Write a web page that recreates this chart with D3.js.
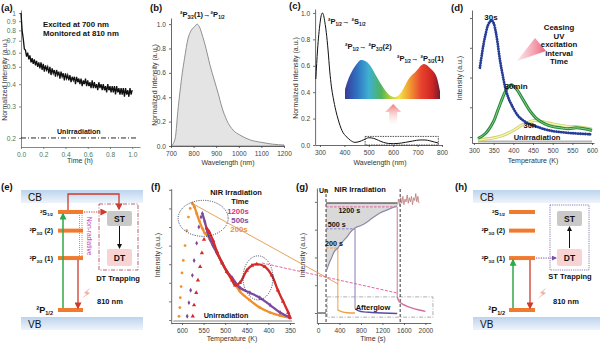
<!DOCTYPE html>
<html>
<head>
<meta charset="utf-8">
<script src="https://cdn.jsdelivr.net/npm/d3@7"></script>
<style>
  body { margin: 0; background: #fff; }
  svg { display: block; font-family: "Liberation Sans", Arial, sans-serif; }
</style>
</head>
<body>
<svg id="fig" width="600" height="344"></svg>
<script>
// ---------- data ----------
// (a) afterglow decay, sampled every 0.01 h
const aStep = 0.01;
const aIntensity = [1.00,0.80,0.72,0.63,0.62,0.57,0.60,0.55,0.58,0.53,0.56,0.52,0.55,0.51,0.54,0.50,0.53,0.49,0.53,0.48,
  0.52,0.47,0.51,0.48,0.50,0.46,0.50,0.45,0.49,0.46,0.48,0.44,0.48,0.45,0.47,0.43,0.47,0.44,0.46,0.42,
  0.46,0.43,0.45,0.42,0.45,0.41,0.44,0.42,0.44,0.40,0.44,0.41,0.43,0.40,0.43,0.39,0.42,0.40,0.43,0.39,
  0.42,0.39,0.41,0.38,0.42,0.38,0.41,0.38,0.40,0.37,0.41,0.38,0.40,0.37,0.40,0.37,0.39,0.36,0.40,0.37,
  0.39,0.36,0.39,0.36,0.39,0.35,0.39,0.36,0.38,0.35,0.38,0.35,0.38,0.34,0.38,0.35,0.37,0.34,0.38,0.35,0.37];
const aTimeTicks = [0, 0.2, 0.4, 0.6, 0.8, 1.0];
const aIntTicks = [0.2, 0.3, 0.4, 0.5, 0.6, 0.7, 0.8, 0.9, 1];

// (b) emission spectrum
const bWave = [700,710,720,730,740,750,760,775,790,805,815,825,840,855,873,890,909,925,947,975,1005,1050,1100,1150,1200];
const bInt  = [0,0.02,0.08,0.28,0.45,0.6,0.72,0.88,0.95,0.98,1.0,0.98,0.9,0.8,0.66,0.55,0.43,0.32,0.21,0.13,0.09,0.05,0.03,0.015,0.008];

// (c) absorption spectrum
const cWave = [283,290,300,305,310,315,320,326,333,340,347,354,365,375,390,410,425,443,460,480,500,520,540,560,580,600,620,650,680,710,730,750,770,785];
const cAbs  = [0.5,0.72,0.92,0.98,1.0,0.98,0.93,0.85,0.72,0.56,0.44,0.36,0.26,0.19,0.11,0.06,0.035,0.02,0.025,0.04,0.055,0.05,0.035,0.02,0.012,0.01,0.012,0.02,0.03,0.038,0.038,0.032,0.022,0.015];
const specWave = [400,410,420,430,440,450,460,470,480,490,500,510,520,530,540,550,560,570,580,590,600,610,620,630,640,650,660,670,680,690,700];
const specRel  = [0.25,0.5,0.68,0.82,0.93,1.0,0.99,0.94,0.85,0.72,0.57,0.43,0.3,0.19,0.1,0.06,0.05,0.1,0.2,0.35,0.5,0.6,0.67,0.76,0.86,0.9,0.86,0.78,0.7,0.55,0.2];

// (d) TL after ceasing UV
const dTemp30s = [315,320,325,330,335,340,345,350,355,360,365,370,375,380,385,390,395,400,410,420,440,460,480,500,550,600];
const d30s     = [2.33,2.77,3.17,3.48,3.74,3.87,3.92,3.83,3.56,3.17,2.68,2.29,1.94,1.63,1.41,1.23,1.1,0.97,0.75,0.61,0.44,0.35,0.26,0.2,0.13,0.09];
const dTemp    = [310,330,350,360,370,380,390,395,400,410,420,430,440,450,460,480,500,520,540,560,580,600];
const d30min   = [-0.05,0.13,0.53,0.88,1.23,1.54,1.72,1.76,1.72,1.58,1.36,1.14,0.92,0.75,0.61,0.44,0.35,0.31,0.28,0.31,0.28,0.22];
const dTemp30h = [310,340,370,400,420,440,450,460,480,500,520,540,560,580,600];
const d30h     = [-0.09,-0.05,0.04,0.22,0.39,0.5,0.55,0.55,0.5,0.44,0.39,0.35,0.35,0.31,0.26];
const dUnirr   = -0.15;

// (f) TL after NIR irradiation
const fTemp200  = [607,605,604,602,600,597,593,589,585,581,576,571,566,560,553,547,541,535,528,519,507,496,484,466,443,420,396,373,350];
const fInt200   = [0.03,0.1,0.18,0.27,0.38,0.48,0.6,0.72,0.83,0.9,0.94,0.91,0.86,0.8,0.74,0.7,0.68,0.65,0.6,0.54,0.46,0.39,0.33,0.23,0.16,0.1,0.06,0.035,0.02];
const fTemp500  = [588,584,580,576,572,566,561,556,553,547,541,535,528,519,507,496,484,466,443,420,396,373,350];
const fInt500   = [0.03,0.14,0.24,0.36,0.48,0.62,0.75,0.83,0.86,0.79,0.71,0.65,0.6,0.54,0.46,0.39,0.34,0.26,0.22,0.18,0.12,0.06,0.02];
const fTemp1200 = [575,572,567,563,558,554,549,543,537,528,519,507,496,484,477,466,450,438,427,408,392,378,366,354,350];
const fInt1200  = [0.03,0.12,0.22,0.32,0.43,0.54,0.65,0.74,0.71,0.64,0.55,0.46,0.39,0.32,0.28,0.3,0.4,0.44,0.45,0.43,0.36,0.24,0.15,0.06,0.02];
const fPeaks = [576, 553, 543];

// (g) intensity vs time
const gGrowT = [150,200,260,300,370,450,540,600,690,800,915,1000,1155,1300,1475];
const gGrowU = [1.48,1.75,2.02,2.2,2.34,2.55,2.74,2.9,3.06,3.15,3.28,3.4,3.6,3.72,3.86];
const gNoiseT = [1480,1500,1520,1540,1560,1580,1600,1620,1640,1660,1680,1700,1720,1740,1760,1780,1800,1820,1840,1860,1880];
const gNoiseU = [3.9,4.1,3.85,4.15,3.95,4.2,3.9,4.1,4.0,4.25,3.95,4.15,4.0,4.2,3.9,4.15,4.05,4.3,4.0,4.2,3.95];
const gTop = 3.96;
const gStops = [370, 690, 1475];        // end of irradiation for 200 s, 500 s, 1200 s
const gLevels = [2.34, 3.03, 3.82];
const gStopLabels = ["200 s", "500 s", "1200 s"];
const gAfterT200 = [370,450,550,690];
const gAfter200  = [0.1,0.04,0.01,0.0];
const gAfterT500 = [690,760,850,1000,1200,1475];
const gAfter500  = [0.15,0.08,0.04,0.02,0.0,-0.02];
const gAfterT1200 = [1475,1500,1550,1650,1800,1950,2000];
const gAfter1200  = [0.58,0.45,0.35,0.25,0.15,0.08,0.06];

// (e)/(h) energy levels
const levelEnergy = [1, 0.81, 0.53, 0];
const levelText = [["²S", ["1/2"]], ["²P", ["3/2"], " (2)"], ["²P", ["3/2"], " (1)"], ["²P", ["1/2"]]];

// ---------- helpers ----------
const svg = d3.select("#fig");
const defs = svg.append("defs");
const FF = "Liberation Sans, Arial, sans-serif";
const fmtInt = d3.format("d");

function arrowMarker(id, color, size) {
  defs.append("marker").attr("id", id)
    .attr("viewBox", "0 0 10 10").attr("refX", 8).attr("refY", 5)
    .attr("markerUnits", "userSpaceOnUse")
    .attr("markerWidth", size).attr("markerHeight", size)
    .attr("orient", "auto")
    .append("path").attr("d", "M0,0L10,5L0,10z").attr("fill", color);
}
arrowMarker("arGreen", "#2ea84a", 7);
arrowMarker("arRed", "#d0392b", 7);
arrowMarker("arBlack", "#111", 5);
arrowMarker("arPurple", "#7a4fa5", 5);

function linGrad(id, stops, vertical) {
  const g = defs.append("linearGradient").attr("id", id)
    .attr("x1", 0).attr("y1", 0).attr("x2", vertical ? 0 : 1).attr("y2", vertical ? 1 : 0);
  stops.forEach(s => g.append("stop").attr("offset", s[0]).attr("stop-color", s[1]).attr("stop-opacity", s[2] == null ? 1 : s[2]));
}
linGrad("band", [[0, "#bcd4ee"], [1, "#eef4fb"]], true);
linGrad("rainbow", [[0, "#3b3b98"], [0.12, "#2f6fc0"], [0.25, "#3fb0d2"], [0.38, "#4fb35c"], [0.5, "#c8d832"],
  [0.57, "#f4e34a"], [0.67, "#f2a233"], [0.8, "#e8442f"], [0.92, "#cf2424"], [1, "#6e1f32"]]);
linGrad("pinkUp", [[0, "#f07c7c"], [1, "#ffffff", 0.2]], true);
linGrad("pinkCone", [[0, "#f3a6b4", 0.3], [1, "#ec5f78"]]);
linGrad("bolt", [[0, "#f7c4b8"], [1, "#ee8f7c"]], true);

function label(g, x, y, txt, o = {}) {
  return g.append("text").attr("x", x).attr("y", y)
    .attr("font-size", o.size || 7).attr("font-weight", o.bold ? "bold" : null)
    .attr("text-anchor", o.anchor || "start").attr("fill", o.fill || "#111").text(txt);
}

// parts: strings are normal, one-element arrays are subscripts
function rich(g, x, y, parts, size, anchor) {
  const t = g.append("text").attr("x", x).attr("y", y).attr("font-size", size)
    .attr("font-weight", "bold").attr("text-anchor", anchor || "start").attr("fill", "#111");
  let shift = 0;
  parts.forEach(p => {
    const sub = Array.isArray(p);
    const want = sub ? size * 0.28 : 0;
    t.append("tspan").attr("dy", want - shift).attr("font-size", sub ? size * 0.62 : size).text(sub ? p[0] : p);
    shift = want;
  });
  return t;
}

function yTitle(g, x, cy, txt) {
  g.append("text").attr("transform", `translate(${x},${cy}) rotate(-90)`)
    .attr("text-anchor", "middle").attr("font-size", 7).attr("fill", "#333").text(txt);
}

function drawAxis(g, axis, tx, ty, color) {
  const a = g.append("g").attr("transform", `translate(${tx},${ty})`).attr("color", color || "#444").call(axis);
  a.attr("font-size", 6.6).attr("font-family", FF);
  a.selectAll("path.domain, line").attr("stroke-width", 0.8);
  return a;
}

function panelTag(x, y, t) { label(svg, x, y, t, { size: 9.5, bold: true }); }

const pairs = (xs, ys) => xs.map((v, i) => [v, ys[i]]);

// ---------- (a) ----------
const ga = svg.append("g");
const xa = d3.scaleLinear([0, 1.07], [21, 140]);
const ya = d3.scaleLog([0.178, 1.04], [147, 10]);
drawAxis(ga, d3.axisBottom(xa).tickValues(aTimeTicks).tickFormat(d3.format(".1f")).tickSize(2).tickSizeOuter(0), 0, 147, "#4a7a5c");
drawAxis(ga, d3.axisLeft(ya).tickValues(aIntTicks).tickFormat(d => d === 1 ? "1" : d3.format(".1f")(d)).tickSize(2).tickSizeOuter(0), 21, 0, "#4a7a5c");
ga.append("path")
  .attr("d", d3.line().x((d, i) => xa(i * aStep)).y(d => ya(d))(aIntensity))
  .attr("fill", "none").attr("stroke", "#111").attr("stroke-width", 1.3);
ga.append("line").attr("x1", xa(0)).attr("x2", xa(1.05)).attr("y1", ya(0.2)).attr("y2", ya(0.2))
  .attr("stroke", "#111").attr("stroke-width", 0.9).attr("stroke-dasharray", "5,2,1,2");
label(ga, xa(0.52), ya(0.2) - 4, "Unirradiation", { bold: true, anchor: "middle" });
label(ga, 43, 27, "Excited at 700 nm", { size: 7.8, bold: true });
label(ga, 43, 36, "Monitored at 810 nm", { size: 7.8, bold: true });
yTitle(ga, 7, 80, "Normalized Intensity (a.u.)");
label(ga, 80, 163, "Time (h)", { anchor: "middle", fill: "#333" });
panelTag(1, 11, "(a)");

// ---------- (b) ----------
const gb = svg.append("g");
const xb = d3.scaleLinear([700, 1200], [171, 284]);
const yb = d3.scaleLinear([0, 1.05], [146, 18]);
gb.append("path")
  .attr("d", d3.area().x(d => xb(d[0])).y0(yb(0)).y1(d => yb(d[1])).curve(d3.curveMonotoneX)(pairs(bWave, bInt)))
  .attr("fill", "#e4e4e4").attr("stroke", "#777").attr("stroke-width", 0.8);
drawAxis(gb, d3.axisBottom(xb).ticks(5).tickFormat(fmtInt).tickSize(2).tickSizeOuter(0), 0, 146);
drawAxis(gb, d3.axisLeft(yb).tickValues([0, 0.2, 0.4, 0.6, 0.8, 1.0]).tickFormat(d3.format(".1f")).tickSize(2).tickSizeOuter(0), 171, 0);
rich(gb, 180, 17, ["²P", ["3/2"], "(1)→²P", ["1/2"]], 7.5);
yTitle(gb, 157, 85, "Normalized Intensity (a.u.)");
label(gb, 228, 165, "Wavelength (nm)", { anchor: "middle", fill: "#333" });
panelTag(150, 11, "(b)");

// ---------- (c) ----------
const gc = svg.append("g");
const xc = d3.scaleLinear([280, 800], [315.1, 442]);
const yc = d3.scaleLinear([0, 1.03], [145, 9]);
drawAxis(gc, d3.axisBottom(xc).tickValues([300, 400, 500, 600, 700, 800]).tickSize(2).tickSizeOuter(0), 0, 145);
drawAxis(gc, d3.axisLeft(yc).tickValues([0, 0.2, 0.4, 0.6, 0.8, 1.0]).tickFormat(d3.format(".1f")).tickSize(2).tickSizeOuter(0), 315.1, 0);
gc.append("path")
  .attr("d", d3.line().x(d => xc(d[0])).y(d => yc(d[1])).curve(d3.curveMonotoneX)(pairs(cWave, cAbs)))
  .attr("fill", "none").attr("stroke", "#111").attr("stroke-width", 1);
gc.append("rect").attr("x", xc(485)).attr("y", yc(0.065)).attr("width", xc(785) - xc(485)).attr("height", yc(0) - yc(0.065))
  .attr("fill", "none").attr("stroke", "#222").attr("stroke-width", 0.8).attr("stroke-dasharray", "1.5,1");
const xs = d3.scaleLinear([400, 700], [345, 440]);
const ys = d3.scaleLinear([0, 1], [99, 60]);
gc.append("path")
  .attr("d", d3.area().x(d => xs(d[0])).y0(ys(0)).y1(d => ys(d[1])).curve(d3.curveMonotoneX)(pairs(specWave, specRel)))
  .attr("fill", "url(#rainbow)");
const ax = xc(600);
gc.append("polygon")
  .attr("points", [[ax, 104], [ax + 8, 112], [ax + 4, 112], [ax + 4, 126], [ax - 4, 126], [ax - 4, 112], [ax - 8, 112]].join(" "))
  .attr("fill", "url(#pinkUp)");
rich(gc, 328, 24, ["²P", ["1/2"], "→ ²S", ["1/2"]], 7.5);
rich(gc, 345, 49, ["²P", ["1/2"], "→ ²P", ["3/2"], "(2)"], 7.5);
rich(gc, 397, 61, ["²P", ["1/2"], "→ ²P", ["3/2"], "(1)"], 7.5);
yTitle(gc, 298, 78, "Normalized Intensity (a.u.)");
label(gc, 380, 165, "Wavelength (nm)", { anchor: "middle", fill: "#333" });
panelTag(289, 9, "(c)");

// ---------- (d) ----------
const gd = svg.append("g");
const xd = d3.scaleLinear([295, 605], [472, 594]);
const yd = d3.scaleLinear([-0.2, 4.27], [143, 10]);
drawAxis(gd, d3.axisBottom(xd).tickValues([300, 350, 400, 450, 500, 550, 600]).tickSize(2).tickSizeOuter(0), 0, 143);
drawAxis(gd, d3.axisLeft(yd).tickValues([0, 1, 2, 3, 4]).tickFormat("").tickSize(2).tickSizeOuter(0), 472, 0);
const lineD = (xsArr, ysArr) => d3.line().x(d => xd(d[0])).y(d => yd(d[1])).curve(d3.curveCatmullRom)(pairs(xsArr, ysArr));
gd.append("line").attr("x1", xd(310)).attr("x2", xd(600)).attr("y1", yd(dUnirr)).attr("y2", yd(dUnirr))
  .attr("stroke", "#b5b5b5").attr("stroke-width", 2.2);
gd.append("path").attr("d", lineD(dTemp30h, d30h)).attr("fill", "none").attr("stroke", "#cfcf6a").attr("stroke-width", 3);
gd.append("path").attr("d", lineD(dTemp30h, d30h)).attr("fill", "none").attr("stroke", "#f7f6b8").attr("stroke-width", 1.3);
gd.append("path").attr("d", lineD(dTemp, d30min)).attr("fill", "none").attr("stroke", "#24883a").attr("stroke-width", 3);
gd.append("path").attr("d", lineD(dTemp, d30min)).attr("fill", "none").attr("stroke", "#8fcf8c").attr("stroke-width", 1);
gd.append("path").attr("d", lineD(dTemp30s, d30s)).attr("fill", "none").attr("stroke", "#263d97")
  .attr("stroke-width", 2.8).attr("stroke-linecap", "round").attr("stroke-dasharray", "0.1,2.3");
gd.append("polygon").attr("points", "517,61 535,38 546,51").attr("fill", "url(#pinkCone)");
label(gd, 491, 20, "30s", { size: 8, bold: true, anchor: "middle" });
label(gd, 516, 89, "30min", { size: 8, bold: true, anchor: "middle" });
label(gd, 530, 128, "30h", { size: 7.5, bold: true, anchor: "middle" });
label(gd, 537, 140, "Unirradiation", { size: 7.5, bold: true, anchor: "middle" });
["Ceasing", "UV", "excitation", "interval", "Time"].forEach((t, i) =>
  label(gd, 559, 30 + i * 8.5, t, { size: 7.8, bold: true, anchor: "middle" }));
yTitle(gd, 462, 78, "Intensity (a.u.)");
label(gd, 533, 163, "Temperature (K)", { anchor: "middle", fill: "#333" });
panelTag(451, 11, "(d)");

// ---------- (e) and (h) level diagrams ----------
const yE = d3.scaleLinear([0, 1], [310, 212]);
function levelDiagram(bandX0, bandX1, barX0, barX1, labelX) {
  const g = svg.append("g");
  g.append("rect").attr("x", bandX0).attr("y", 190).attr("width", bandX1 - bandX0).attr("height", 13).attr("fill", "url(#band)");
  g.append("rect").attr("x", bandX0).attr("y", 317).attr("width", bandX1 - bandX0).attr("height", 13).attr("fill", "url(#band)");
  label(g, bandX0 + 7, 201, "CB", { size: 10 });
  label(g, bandX0 + 7, 328, "VB", { size: 10 });
  levelEnergy.forEach((e, i) => {
    g.append("rect").attr("x", barX0).attr("y", yE(e) - 2).attr("width", barX1 - barX0).attr("height", 4).attr("fill", "#f07b2e");
    rich(g, labelX, yE(e) + 2.5, levelText[i], i === 3 ? 9 : 7, "end");
  });
  return g;
}
function bolt(g, x, y) {
  g.append("path").attr("d", `M${x + 10},${y} L${x + 3},${y + 6} L${x + 6},${y + 7} L${x},${y + 12} L${x + 9},${y + 6} L${x + 6},${y + 5} Z`)
    .attr("fill", "url(#bolt)");
}
function trapBox(g, x0, x1, y0, y1, top, bottom) {
  g.append("rect").attr("x", x0).attr("y", y0).attr("width", x1 - x0).attr("height", 15).attr("rx", 2).attr("fill", "#c9c9c9");
  label(g, (x0 + x1) / 2, y0 + 10.5, top, { size: 8.5, bold: true, anchor: "middle" });
  g.append("rect").attr("x", x0).attr("y", y1).attr("width", x1 - x0).attr("height", 17).attr("rx", 2).attr("fill", "#f7d3d3");
  label(g, (x0 + x1) / 2, y1 + 12, bottom, { size: 8.5, bold: true, anchor: "middle" });
}

// (e)
const ge = levelDiagram(21, 143, 58, 83, 53);
ge.append("line").attr("x1", 63).attr("x2", 63).attr("y1", yE(0) - 2).attr("y2", yE(1) + 2)
  .attr("stroke", "#2ea84a").attr("stroke-width", 1.5).attr("marker-end", "url(#arGreen)");
ge.append("path").attr("d", `M68,${yE(1) - 2} V194 H119 V209`).attr("fill", "none")
  .attr("stroke", "#d0392b").attr("stroke-width", 1.3).attr("marker-end", "url(#arRed)");
ge.append("line").attr("x1", 78).attr("x2", 78).attr("y1", yE(0.53) + 2).attr("y2", yE(0) - 2)
  .attr("stroke", "#d0392b").attr("stroke-width", 1.3).attr("marker-end", "url(#arRed)");
ge.append("line").attr("x1", 84).attr("x2", 106).attr("y1", yE(1)).attr("y2", yE(1))
  .attr("stroke", "#d0392b").attr("stroke-width", 1).attr("stroke-dasharray", "1.2,1.2").attr("marker-end", "url(#arRed)");
[79.5, 82].forEach(x => ge.append("line").attr("x1", x).attr("x2", x).attr("y1", yE(1) + 3).attr("y2", yE(0.53) - 2)
  .attr("stroke", "#cc55bb").attr("stroke-width", 0.8).attr("stroke-dasharray", "1,1"));
ge.append("text").attr("transform", `translate(86.5,236) rotate(90)`).attr("text-anchor", "middle")
  .attr("font-size", 6.5).attr("fill", "#c040b8").text("Non-radiative");
ge.append("rect").attr("x", 99).attr("y", 204).attr("width", 39).attr("height", 66)
  .attr("fill", "none").attr("stroke", "#b0505e").attr("stroke-width", 0.9).attr("stroke-dasharray", "4,1.5,1,1.5");
trapBox(ge, 107, 132, 211, 249, "ST", "DT");
ge.append("line").attr("x1", 119.5).attr("x2", 119.5).attr("y1", 226).attr("y2", 248)
  .attr("stroke", "#111").attr("stroke-width", 1).attr("marker-end", "url(#arBlack)");
label(ge, 118, 281, "DT Trapping", { size: 7.5, bold: true, anchor: "middle" });
label(ge, 97, 304, "810 nm", { size: 7.5, bold: true });
bolt(ge, 81, 287);
panelTag(1, 190, "(e)");

// (h)
const gh = levelDiagram(473, 600, 509, 535, 505);
gh.append("line").attr("x1", 513).attr("x2", 513).attr("y1", yE(0) - 2).attr("y2", yE(0.53) + 2)
  .attr("stroke", "#2ea84a").attr("stroke-width", 1.5).attr("marker-end", "url(#arGreen)");
gh.append("line").attr("x1", 530).attr("x2", 530).attr("y1", yE(0.53) + 2).attr("y2", yE(0) - 2)
  .attr("stroke", "#d0392b").attr("stroke-width", 1.3).attr("marker-end", "url(#arRed)");
gh.append("line").attr("x1", 536).attr("x2", 556).attr("y1", yE(0.53)).attr("y2", yE(0.53))
  .attr("stroke", "#7a4fa5").attr("stroke-width", 1).attr("stroke-dasharray", "1.2,1.2").attr("marker-end", "url(#arPurple)");
gh.append("rect").attr("x", 550).attr("y", 205).attr("width", 39).attr("height", 65)
  .attr("fill", "none").attr("stroke", "#7a6fb0").attr("stroke-width", 0.9).attr("stroke-dasharray", "1.2,1");
trapBox(gh, 557, 582, 211, 249, "ST", "DT");
gh.append("line").attr("x1", 569.5).attr("x2", 569.5).attr("y1", 248).attr("y2", 227)
  .attr("stroke", "#111").attr("stroke-width", 1).attr("marker-end", "url(#arBlack)");
label(gh, 570, 279, "ST Trapping", { size: 7.5, bold: true, anchor: "middle" });
label(gh, 553, 304, "810 nm", { size: 7.5, bold: true });
bolt(gh, 537, 287);
panelTag(455, 190, "(h)");

// ---------- (f) ----------
const gf = svg.append("g");
const xf = d3.scaleLinear([625, 340], [171.2, 294.3]);
const yf = d3.scaleLinear([-0.03, 1.06], [323.7, 188.6]);
drawAxis(gf, d3.axisBottom(xf).tickValues([600, 550, 500, 450, 400, 350]).tickSize(2).tickSizeOuter(0), 0, 323);
drawAxis(gf, d3.axisLeft(yf).tickValues([0, 0.15, 0.3, 0.45, 0.6, 0.75, 0.9, 1.05]).tickFormat("").tickSize(2).tickSizeOuter(0), 171.2, 0);
gf.append("line").attr("x1", xf(620)).attr("x2", xf(345)).attr("y1", yf(0) + 1).attr("y2", yf(0) + 1)
  .attr("stroke", "#c4c4c4").attr("stroke-width", 2.2);
const fSeries = [
  { t: fTemp200, v: fInt200, color: "#f0902c", sym: d3.symbolCircle, size: 6 },
  { t: fTemp500, v: fInt500, color: "#7b4a9e", sym: d3.symbolDiamond, size: 7 },
  { t: fTemp1200, v: fInt1200, color: "#d42a2a", sym: d3.symbolTriangle, size: 8 }
];
fSeries.forEach((s, k) => {
  const pts = pairs(s.t, s.v);
  gf.selectAll(null).data(pts).enter().append("path")
    .attr("transform", d => `translate(${xf(d[0])},${yf(d[1])})`)
    .attr("d", d3.symbol().type(s.sym).size(s.size)).attr("fill", s.color);
  gf.append("path")
    .attr("d", d3.line().x(d => xf(d[0])).y(d => yf(d[1])).curve(d3.curveCatmullRom)(pts.filter(d => d[0] <= fPeaks[k])))
    .attr("fill", "none").attr("stroke", s.color).attr("stroke-width", 2.3);
});
gf.append("ellipse").attr("cx", xf(551)).attr("cy", yf(0.82)).attr("rx", 25).attr("ry", 18)
  .attr("fill", "none").attr("stroke", "#1c2a4a").attr("stroke-width", 0.9).attr("stroke-dasharray", "1,1.3");
gf.append("ellipse").attr("cx", xf(424)).attr("cy", yf(0.34)).attr("rx", 15).attr("ry", 22)
  .attr("fill", "none").attr("stroke", "#1c2a4a").attr("stroke-width", 0.9).attr("stroke-dasharray", "1,1.3");
label(gf, 236, 195, "NIR Irradiation", { size: 7.5, bold: true, anchor: "middle" });
label(gf, 240, 204, "Time", { size: 7.5, bold: true, anchor: "middle" });
label(gf, 238, 214, "1200s", { size: 7.8, bold: true, anchor: "middle", fill: "#d6308a" });
label(gf, 240, 223, "500s", { size: 7.8, bold: true, anchor: "middle", fill: "#7b4a9e" });
label(gf, 239, 232, "200s", { size: 7.8, bold: true, anchor: "middle", fill: "#f0902c" });
label(gf, 226, 318, "Unirradiation", { size: 7.2, bold: true, anchor: "middle" });
yTitle(gf, 160, 255, "Intensity (a.u.)");
label(gf, 232, 341, "Temperature (K)", { anchor: "middle", fill: "#333" });
panelTag(151, 190, "(f)");

// ---------- (g) ----------
const gg = svg.append("g");
const xg = d3.scaleLinear([-20, 2100], [316.9, 430.8]);
const yg = d3.scaleLinear([-0.36, 4.5], [323, 188]);
drawAxis(gg, d3.axisBottom(xg).tickValues([0, 400, 800, 1200, 1600, 2000]).tickFormat(fmtInt).tickSize(2).tickSizeOuter(0), 0, 323);
drawAxis(gg, d3.axisLeft(yg).tickValues([0, 1, 2, 3, 4]).tickFormat("").tickSize(2).tickSizeOuter(0), 316.9, 0);
const growth = pairs(gGrowT, gGrowU);
gg.append("path")
  .attr("d", d3.area().x(d => xg(d[0])).y0(yg(gTop)).y1(d => yg(d[1])).curve(d3.curveMonotoneX)(growth))
  .attr("fill", "#d9d9d9");
gg.append("rect").attr("x", xg(170)).attr("y", yg(0.58)).attr("width", xg(2140) - xg(170)).attr("height", yg(-0.15) - yg(0.58))
  .attr("fill", "none").attr("stroke", "#999").attr("stroke-width", 0.8).attr("stroke-dasharray", "4,1.5,1,1.5");
gg.append("line").attr("x1", xg(150)).attr("x2", xg(1475)).attr("y1", yg(gTop)).attr("y2", yg(gTop))
  .attr("stroke", "#222").attr("stroke-width", 1);
gg.append("line").attr("x1", xg(0)).attr("x2", xg(150)).attr("y1", yg(0)).attr("y2", yg(0))
  .attr("stroke", "#222").attr("stroke-width", 1);
[150, 1530].forEach(t => gg.append("line").attr("x1", xg(t)).attr("x2", xg(t)).attr("y1", 189).attr("y2", 323)
  .attr("stroke", "#222").attr("stroke-width", 0.9).attr("stroke-dasharray", "3,2"));
const gColors = ["#f0a040", "#8a7fc0", "#e0609e"];
const gDrop = ["#f0a040", "#8a78b8", "#cf6fa0"];
const gAfter = [pairs(gAfterT200, gAfter200), pairs(gAfterT500, gAfter500), pairs(gAfterT1200, gAfter1200)];
gStops.forEach((t, i) => {
  gg.append("line").attr("x1", xg(150)).attr("x2", xg(t)).attr("y1", yg(gLevels[i])).attr("y2", yg(gLevels[i]))
    .attr("stroke", gColors[i]).attr("stroke-width", 1).attr("stroke-dasharray", "2.5,1.5");
  gg.append("line").attr("x1", xg(t)).attr("x2", xg(t)).attr("y1", yg(gLevels[i])).attr("y2", yg(gAfter[i][0][1]))
    .attr("stroke", gDrop[i]).attr("stroke-width", 1);
  gg.append("path").attr("d", d3.line().x(d => xg(d[0])).y(d => yg(d[1])).curve(d3.curveMonotoneX)(gAfter[i]))
    .attr("fill", "none").attr("stroke", i === 1 ? "#5a4aa0" : gDrop[i]).attr("stroke-width", 1.4);
});
gg.append("path").attr("d", d3.line().x(d => xg(d[0])).y(d => yg(d[1])).curve(d3.curveMonotoneX)(growth))
  .attr("fill", "none").attr("stroke", "#8a8aa8").attr("stroke-width", 1.2);
gg.append("path").attr("d", d3.line().x(d => xg(d[0])).y(d => yg(d[1]))(pairs(gNoiseT, gNoiseU)))
  .attr("fill", "none").attr("stroke", "#b06a6a").attr("stroke-width", 0.7);
label(gg, xg(380), yg(3.82) + 6, gStopLabels[2], { size: 7.2, bold: true });
label(gg, xg(180), yg(3.03) - 2, gStopLabels[1], { size: 7.2, bold: true });
label(gg, xg(130), yg(2.34) - 2, gStopLabels[0], { size: 7.2, bold: true });
label(gg, 319, 193, "Un", { size: 7, bold: true });
label(gg, 360, 192, "NIR Irradiation", { size: 7.5, bold: true, anchor: "middle" });
label(gg, 373, 310, "Afterglow", { size: 7.5, bold: true, anchor: "middle" });
yTitle(gg, 305, 255, "Intensity (a.u.)");
label(gg, 373, 341, "Time (s)", { anchor: "middle", fill: "#333" });
panelTag(296, 190, "(g)");

// connectors from (f) into (g)
svg.append("line").attr("x1", xf(576)).attr("y1", yf(0.94)).attr("x2", xg(370)).attr("y2", yg(1.05))
  .attr("stroke", "#e08a30").attr("stroke-width", 0.8);
svg.append("line").attr("x1", xf(415)).attr("y1", yf(0.46)).attr("x2", xg(1475)).attr("y2", yg(0.72))
  .attr("stroke", "#e0559a").attr("stroke-width", 0.9).attr("stroke-dasharray", "3,1.5");
</script>
</body>
</html>
